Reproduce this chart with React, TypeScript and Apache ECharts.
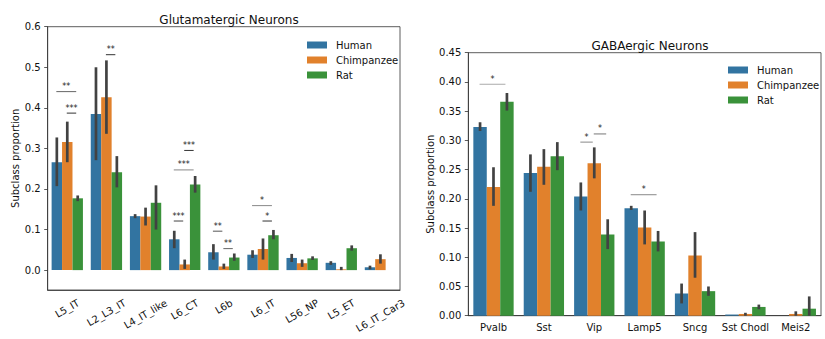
import React, { useEffect, useRef } from "react";
import * as echarts from "echarts";

// ---------- Data: Glutamatergic (left) ----------
const L_CATS = ["L5_IT", "L2_L3_IT", "L4_IT_like", "L6_CT", "L6b", "L6_IT", "L56_NP", "L5_ET", "L6_IT_Car3"];
const L_HUMAN = [0.266, 0.385, 0.133, 0.076, 0.044, 0.038, 0.030, 0.018, 0.007];
const L_HUMAN_LO = [0.207, 0.271, 0.128, 0.054, 0.026, 0.030, 0.020, 0.013, 0.002];
const L_HUMAN_HI = [0.327, 0.500, 0.138, 0.097, 0.064, 0.049, 0.040, 0.022, 0.011];
const L_CHIMP = [0.316, 0.426, 0.132, 0.014, 0.009, 0.052, 0.017, 0.002, 0.027];
const L_CHIMP_LO = [0.266, 0.336, 0.110, 0.003, 0.003, 0.026, 0.008, 0.000, 0.016];
const L_CHIMP_HI = [0.366, 0.517, 0.154, 0.026, 0.016, 0.078, 0.026, 0.008, 0.039];
const L_RAT = [0.177, 0.241, 0.166, 0.211, 0.031, 0.086, 0.029, 0.054, null];
const L_RAT_LO = [0.170, 0.204, 0.100, 0.191, 0.023, 0.076, 0.025, 0.048, null];
const L_RAT_HI = [0.184, 0.281, 0.209, 0.232, 0.041, 0.099, 0.034, 0.061, null];
const L_TICKS = [0, 0.1, 0.2, 0.3, 0.4, 0.5, 0.6];

// ---------- Data: GABAergic (right) ----------
const R_CATS = ["Pvalb", "Sst", "Vip", "Lamp5", "Sncg", "Sst Chodl", "Meis2"];
const R_HUMAN = [0.323, 0.244, 0.204, 0.184, 0.038, 0.002, null];
const R_HUMAN_LO = [0.316, 0.212, 0.180, 0.181, 0.021, 0.002, null];
const R_HUMAN_HI = [0.331, 0.276, 0.228, 0.188, 0.055, 0.002, null];
const R_CHIMP = [0.220, 0.255, 0.261, 0.151, 0.103, 0.003, 0.003];
const R_CHIMP_LO = [0.188, 0.224, 0.235, 0.122, 0.065, 0.000, 0.000];
const R_CHIMP_HI = [0.254, 0.285, 0.288, 0.180, 0.143, 0.005, 0.0075];
const R_RAT = [0.366, 0.273, 0.139, 0.127, 0.042, 0.015, 0.012];
const R_RAT_LO = [0.351, 0.249, 0.114, 0.110, 0.034, 0.011, 0.000];
const R_RAT_HI = [0.381, 0.297, 0.165, 0.145, 0.050, 0.019, 0.033];
const R_TICKS = [0, 0.05, 0.1, 0.15, 0.2, 0.25, 0.3, 0.35, 0.4, 0.45];

const SPECIES = ["Human", "Chimpanzee", "Rat"];

// significance brackets: category index, hue a, hue b, level (data units), stars
const L_SIG = [
  { cat: 0, a: 0, b: 2, level: 0.440, stars: "**" },
  { cat: 0, a: 1, b: 2, level: 0.387, stars: "***" },
  { cat: 1, a: 1, b: 2, level: 0.531, stars: "**" },
  { cat: 3, a: 1, b: 2, level: 0.295, stars: "***" },
  { cat: 3, a: 0, b: 2, level: 0.247, stars: "***" },
  { cat: 3, a: 0, b: 1, level: 0.121, stars: "***" },
  { cat: 4, a: 0, b: 1, level: 0.096, stars: "**" },
  { cat: 4, a: 1, b: 2, level: 0.053, stars: "**" },
  { cat: 5, a: 0, b: 2, level: 0.159, stars: "*" },
  { cat: 5, a: 1, b: 2, level: 0.121, stars: "*" },
];
const R_SIG = [
  { cat: 0, a: 0, b: 2, level: 0.396, stars: "*" },
  { cat: 2, a: 0, b: 1, level: 0.297, stars: "*" },
  { cat: 2, a: 1, b: 2, level: 0.311, stars: "*" },
  { cat: 3, a: 0, b: 2, level: 0.207, stars: "*" },
];

// ---------- Styles ----------
const COLORS = ["#3274a1", "#e1812c", "#3a923a"];
const L_SIG_SHADE = ["#666", "#333", "#333", "#333", "#888", "#444", "#555", "#666", "#888", "#333"];
const R_SIG_SHADE = ["#aaa", "#888", "#777", "#888"];
const FONT = "DejaVu Sans";
const TEXT = "#111";
const SPINE = "#333";

function errRows(los: (number | null)[][], his: (number | null)[][]) {
  const rows: number[][] = [];
  for (let h = 0; h < 3; h++) {
    los[h].forEach((lo, i) => {
      const hi = his[h][i];
      if (lo == null || hi == null || hi - lo <= 0) return;
      rows.push([i, lo, hi, h]);
    });
  }
  return rows;
}

function errSeries(rows: number[][], idx: number) {
  return {
    type: "custom",
    xAxisIndex: idx,
    yAxisIndex: idx,
    silent: true,
    clip: false,
    z: 5,
    encode: { x: 0, y: [1, 2] },
    data: rows,
    renderItem: (params: any, api: any) => {
      const c = api.value(0);
      const lo = api.value(1);
      const hi = api.value(2);
      const h = api.value(3);
      const pLo = api.coord([c, lo]);
      const pHi = api.coord([c, hi]);
      const band = api.size([1, 0])[0];
      const x = pLo[0] + (h - 1) * (band * 0.8) / 3;
      return {
        type: "line",
        shape: { x1: x, y1: pLo[1], x2: x, y2: pHi[1] },
        style: { stroke: "#424242", lineWidth: 2.7 },
      };
    },
  };
}

function sigSeries(sig: any[], shades: string[], idx: number) {
  return {
    type: "custom",
    xAxisIndex: idx,
    yAxisIndex: idx,
    silent: true,
    clip: false,
    z: 6,
    encode: { x: 0, y: 1 },
    data: sig.map((s) => [s.cat, s.level]),
    renderItem: (params: any, api: any) => {
      const s = sig[params.dataIndex];
      const p = api.coord([s.cat, s.level]);
      const band = api.size([1, 0])[0];
      const step = (band * 0.8) / 3;
      const xa = p[0] + (s.a - 1) * step - 0.5;
      const xb = p[0] + (s.b - 1) * step - 1.5;
      return {
        type: "group",
        children: [
          {
            type: "line",
            shape: { x1: xa, y1: p[1], x2: xb, y2: p[1] },
            style: { stroke: shades[params.dataIndex], lineWidth: 1 },
          },
          {
            type: "text",
            x: (xa + xb) / 2,
            y: p[1] - 1,
            style: {
              text: s.stars,
              fill: "#222",
              fontSize: 8,
              fontFamily: FONT,
              align: "center",
              verticalAlign: "bottom",
            },
          },
        ],
      };
    },
  };
}

function barSeries(data: (number | null)[], h: number, idx: number) {
  return {
    type: "bar",
    name: SPECIES[h],
    xAxisIndex: idx,
    yAxisIndex: idx,
    data: data.map((v) => (v == null ? "-" : v)),
    barGap: "0%",
    barCategoryGap: "20%",
    itemStyle: { color: COLORS[h] },
    silent: true,
  };
}

function legend(left: number, top: number) {
  return {
    left,
    top,
    orient: "vertical",
    icon: "rect",
    itemWidth: 20,
    itemHeight: 7,
    itemGap: 3,
    selectedMode: false,
    data: SPECIES,
    textStyle: { fontSize: 10, fontFamily: FONT, color: TEXT, lineHeight: 12, padding: [0, 0, 0, 4] },
  };
}

export default function App() {
  const ref = useRef<HTMLDivElement>(null);
  useEffect(() => {
    if (!ref.current) return;
    const chart = echarts.init(ref.current, null, { renderer: "svg" });
    const axisLabelY = (digits: number, ticks: number[]) => ({
      fontSize: 10,
      fontFamily: FONT,
      color: TEXT,
      margin: 7,
      customValues: ticks,
      formatter: (v: number) => v.toFixed(digits),
    });
    const option: any = {
      animation: false,
      textStyle: { fontFamily: FONT },
      title: [
        {
          text: "Glutamatergic Neurons",
          left: 224,
          top: 9,
          textAlign: "center",
          textStyle: { fontSize: 12, fontWeight: "normal", color: TEXT, fontFamily: FONT },
        },
        {
          text: "GABAergic Neurons",
          left: 645,
          top: 35,
          textAlign: "center",
          textStyle: { fontSize: 12, fontWeight: "normal", color: TEXT, fontFamily: FONT },
        },
      ],
      legend: [legend(302, 34), legend(723, 59)],
      grid: [
        { left: 47.7, right: 425, top: 26.7, bottom: 49, show: true, borderColor: SPINE, borderWidth: 0.8, backgroundColor: "transparent" },
        { left: 468.3, right: 4, top: 52.7, bottom: 23.3, show: true, borderColor: SPINE, borderWidth: 0.8, backgroundColor: "transparent" },
      ],
      xAxis: [
        {
          type: "category",
          gridIndex: 0,
          data: L_CATS,
          axisLine: { onZero: false, lineStyle: { color: SPINE, width: 0.8 } },
          axisTick: { alignWithLabel: true, length: 3.5, lineStyle: { color: SPINE, width: 0.8 } },
          axisLabel: { show: false },
        },
        {
          type: "category",
          gridIndex: 1,
          data: R_CATS,
          axisLine: { onZero: false, lineStyle: { color: SPINE, width: 0.8 } },
          axisTick: { alignWithLabel: true, length: 3.5, lineStyle: { color: SPINE, width: 0.8 } },
          axisLabel: { fontSize: 10, fontFamily: FONT, color: TEXT, margin: 7, interval: 0 },
        },
      ],
      yAxis: [
        {
          type: "value",
          gridIndex: 0,
          min: -0.049,
          max: 0.6,
          name: "Subclass proportion",
          nameLocation: "middle",
          nameGap: 27,
          nameTextStyle: { fontSize: 10, fontFamily: FONT, color: TEXT },
          axisLine: { show: true, lineStyle: { color: SPINE, width: 0.8 } },
          axisTick: { show: true, length: 3.5, customValues: L_TICKS, lineStyle: { color: SPINE, width: 0.8 } },
          axisLabel: axisLabelY(1, L_TICKS),
          splitLine: { show: false },
        },
        {
          type: "value",
          gridIndex: 1,
          min: 0,
          max: 0.45,
          name: "Subclass proportion",
          nameLocation: "middle",
          nameGap: 33,
          nameTextStyle: { fontSize: 10, fontFamily: FONT, color: TEXT },
          axisLine: { show: true, lineStyle: { color: SPINE, width: 0.8 } },
          axisTick: { show: true, length: 3.5, customValues: R_TICKS, lineStyle: { color: SPINE, width: 0.8 } },
          axisLabel: axisLabelY(2, R_TICKS),
          splitLine: { show: false },
        },
      ],
      series: [
        barSeries(L_HUMAN, 0, 0),
        barSeries(L_CHIMP, 1, 0),
        barSeries(L_RAT, 2, 0),
        errSeries(errRows([L_HUMAN_LO, L_CHIMP_LO, L_RAT_LO], [L_HUMAN_HI, L_CHIMP_HI, L_RAT_HI]), 0),
        sigSeries(L_SIG, L_SIG_SHADE, 0),
        barSeries(R_HUMAN, 0, 1),
        barSeries(R_CHIMP, 1, 1),
        barSeries(R_RAT, 2, 1),
        errSeries(errRows([R_HUMAN_LO, R_CHIMP_LO, R_RAT_LO], [R_HUMAN_HI, R_CHIMP_HI, R_RAT_HI]), 1),
        sigSeries(R_SIG, R_SIG_SHADE, 1),
      ],
    };
    chart.setOption(option);

    // rotated x labels of the left panel, centred under their ticks
    const canvas = document.createElement("canvas");
    const ctx = canvas.getContext("2d")!;
    ctx.font = `10px "${FONT}"`;
    const bottom = chart.convertToPixel({ yAxisIndex: 0 }, -0.049) as number;
    const y0 = bottom + 3.5 + 3.5;
    const ang = Math.PI / 6;
    const lh = 11.6;
    const graphics = L_CATS.map((c) => {
      const x = chart.convertToPixel({ xAxisIndex: 0 }, c) as number;
      const w = ctx.measureText(c).width;
      const h = w * Math.sin(ang) + lh * Math.cos(ang);
      return {
        type: "text",
        x,
        y: y0 + h / 2,
        rotation: ang,
        silent: true,
        style: {
          text: c,
          fontSize: 10,
          fontFamily: FONT,
          fill: TEXT,
          align: "center",
          verticalAlign: "middle",
          textAlign: "center",
          textVerticalAlign: "middle",
        },
      };
    });
    chart.setOption({ graphic: graphics });

    return () => chart.dispose();
  }, []);
  return (
    <div
      ref={ref}
      style={{ position: "absolute", left: 0, top: 0, width: 825, height: 339, background: "#fff" }}
    />
  );
}
